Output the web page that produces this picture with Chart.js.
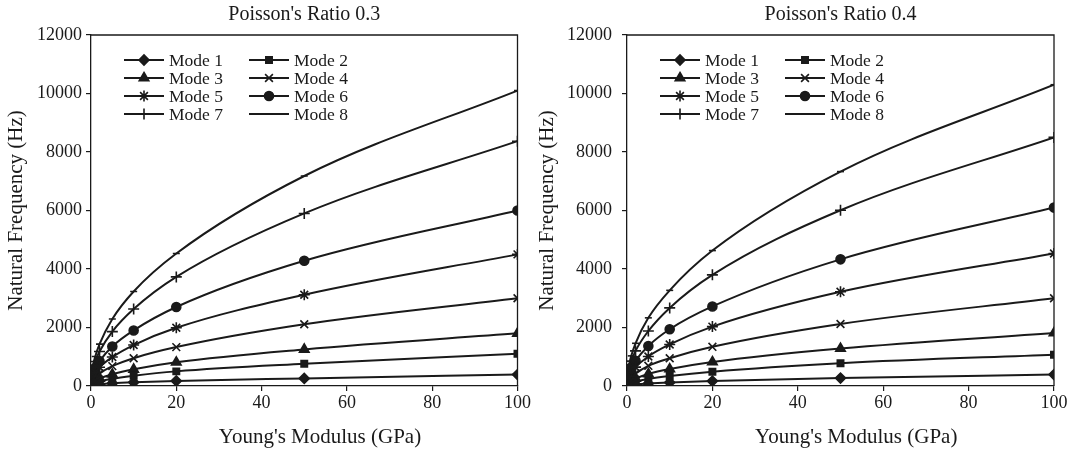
<!DOCTYPE html>
<html>
<head>
<meta charset="utf-8">
<title>Natural frequency vs Young's modulus</title>
<script src="https://cdn.jsdelivr.net/npm/chart.js@4.4.1/dist/chart.umd.min.js"></script>
<style>
  html, body { margin: 0; padding: 0; background: #fff; }
  #wrap { position: relative; width: 1072px; height: 462px; overflow: hidden; }
  canvas { position: absolute; top: 0; }
  #nu03 { left: 0; }
  #nu04 { left: 532px; }
</style>
</head>
<body>
<div id="wrap">
  <canvas id="nu03" width="532" height="462"></canvas>
  <canvas id="nu04" width="540" height="462"></canvas>
</div>
<script>
// ---- data ----
const youngModulus = [0.1, 0.5, 1, 2, 5, 10, 20, 50, 100];   // GPa
const modeLabels   = ["Mode 1", "Mode 2", "Mode 3", "Mode 4", "Mode 5", "Mode 6", "Mode 7", "Mode 8"];
const xTicks = [0, 20, 40, 60, 80, 100];
const yTicks = [0, 2000, 4000, 6000, 8000, 10000, 12000];

// Poisson's ratio 0.3, one row per mode (Hz)
const freqNu03 = [
  [13, 28, 40, 57, 90, 125, 175, 260, 390],
  [35, 78, 110, 156, 250, 350, 500, 760, 1100],
  [57, 128, 180, 255, 400, 570, 810, 1250, 1800],
  [95, 210, 300, 425, 680, 950, 1330, 2110, 3000],
  [140, 320, 450, 640, 990, 1400, 1990, 3120, 4500],
  [190, 425, 600, 850, 1350, 1900, 2700, 4280, 6000],
  [265, 590, 840, 1180, 1860, 2630, 3730, 5900, 8370],
  [320, 720, 1010, 1430, 2290, 3230, 4530, 7180, 10100],
];

// Poisson's ratio 0.4
const freqNu04 = [
  [12, 27, 38, 54, 85, 120, 170, 270, 390],
  [33, 75, 105, 150, 240, 340, 490, 780, 1070],
  [57, 128, 180, 255, 410, 580, 820, 1280, 1810],
  [95, 212, 300, 425, 690, 950, 1340, 2120, 3000],
  [142, 320, 455, 645, 1010, 1420, 2030, 3220, 4530],
  [195, 430, 610, 865, 1370, 1940, 2720, 4330, 6100],
  [270, 600, 850, 1200, 1880, 2670, 3800, 6010, 8500],
  [325, 730, 1030, 1460, 2330, 3270, 4630, 7330, 10300],
];

// ---- styles ----
const INK   = "#1a1a1a";
const SERIF = "'Liberation Serif', 'Times New Roman', serif";
const markerStyle = ["rectRot", "rect", "triangle", "crossRot", "star", "circle", "cross", "line"];
const markerSize  = [5, 4.5, 5.5, 5.5, 5.5, 4.5, 5.5, 3.5];

Chart.defaults.font.family = SERIF;
Chart.defaults.color = INK;

// top/right frame lines + 2-column legend inside the plot area
const frameAndLegend = {
  id: "frameAndLegend",
  beforeDatasetsDraw(chart) {
    const { ctx, chartArea: a } = chart;
    ctx.save();
    ctx.strokeStyle = INK;
    ctx.lineWidth = 1.3;
    ctx.beginPath();
    ctx.moveTo(a.left, a.top);
    ctx.lineTo(a.right, a.top);
    ctx.lineTo(a.right, a.bottom);
    ctx.stroke();
    ctx.restore();
  },
  afterDatasetsDraw(chart) {
    const { ctx, chartArea: a } = chart;
    chart.data.datasets.forEach((ds, i) => {
      const col = i % 2, row = Math.floor(i / 2);
      const x0 = a.left + 33 + col * 125;
      const y  = a.top + 25 + row * 18;
      ctx.save();
      ctx.strokeStyle = INK;
      ctx.fillStyle = INK;
      ctx.lineWidth = 2;
      ctx.beginPath();
      ctx.moveTo(x0, y);
      ctx.lineTo(x0 + 40, y);
      ctx.stroke();
      ctx.lineWidth = ds.pointBorderWidth;
      Chart.helpers.drawPoint(ctx, {
        pointStyle: ds.pointStyle, radius: ds.pointRadius,
        borderWidth: ds.pointBorderWidth, rotation: 0,
      }, x0 + 20, y);
      ctx.font = "17.5px " + SERIF;
      ctx.textBaseline = "middle";
      ctx.textAlign = "left";
      ctx.fillText(ds.label, x0 + 45, y + 1);
      ctx.restore();
    });
  },
};

function buildPanel(canvasId, title, freqs, fr) {
  const datasets = freqs.map((vals, i) => ({
    label: modeLabels[i],
    data: vals.map((v, j) => ({ x: youngModulus[j], y: v })),
    showLine: true,
    borderColor: INK,
    backgroundColor: INK,
    borderWidth: 2,
    pointStyle: markerStyle[i],
    pointRadius: markerSize[i],
    pointBorderWidth: 1.6,
    cubicInterpolationMode: "monotone",
  }));

  return new Chart(document.getElementById(canvasId), {
    type: "scatter",
    data: { datasets },
    options: {
      responsive: false,
      animation: false,
      devicePixelRatio: 1,
      layout: { padding: { top: 0, right: fr.padRight, bottom: 0, left: 0 } },
      plugins: {
        legend: { display: false },
        tooltip: { enabled: false },
        title: {
          display: true, text: title, fullSize: false, color: INK,
          font: { size: 20, weight: "normal" },
          padding: { top: 3, bottom: 8 },
        },
      },
      scales: {
        x: {
          type: "linear", min: 0, max: 100,
          afterBuildTicks: s => { s.ticks = xTicks.map(v => ({ value: v })); },
          afterFit: s => { s.height = 76; },
          ticks: { font: { size: 18 }, color: INK, padding: 1, maxRotation: 0, callback: v => String(v) },
          grid: { drawOnChartArea: false, tickLength: 5, color: INK, lineWidth: 1.2 },
          border: { color: INK, width: 1.3 },
          title: {
            display: true, text: "      Young's Modulus (GPa)", color: INK,
            font: { size: 21 }, padding: { top: 0, bottom: 12 },
          },
        },
        y: {
          type: "linear", min: 0, max: 12000,
          afterBuildTicks: s => { s.ticks = yTicks.map(v => ({ value: v })); },
          afterFit: s => { s.width = fr.axisLeft; },
          ticks: { font: { size: 18 }, color: INK, padding: fr.tickPad, callback: v => String(v) },
          grid: { drawOnChartArea: false, tickLength: 5, color: INK, lineWidth: 1.2 },
          border: { color: INK, width: 1.3 },
          title: {
            display: true, text: "Natural Frequency (Hz)", color: INK,
            font: { size: 21 }, padding: { top: fr.titlePad, bottom: 0 },
          },
        },
      },
    },
    plugins: [frameAndLegend],
  });
}

buildPanel("nu03", "Poisson's Ratio 0.3", freqNu03, { axisLeft: 91, padRight: 13, tickPad: 4, titlePad: 4 });
buildPanel("nu04", "Poisson's Ratio 0.4", freqNu04, { axisLeft: 95, padRight: 18, tickPad: 10, titlePad: 3 });
</script>
</body>
</html>
